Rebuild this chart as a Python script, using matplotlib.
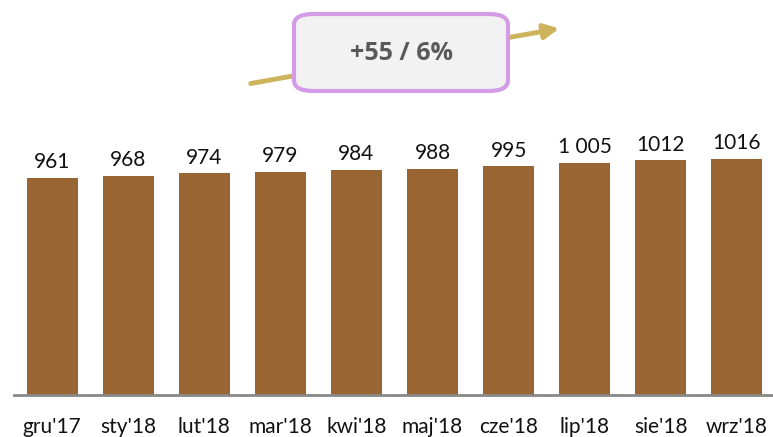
import matplotlib
matplotlib.use("Agg")
import matplotlib.pyplot as plt
from matplotlib.patches import FancyBboxPatch, FancyArrowPatch

miesiace = ["gru'17", "sty'18", "lut'18", "mar'18", "kwi'18",
            "maj'18", "cze'18", "lip'18", "sie'18", "wrz'18"]
wartosci = [961, 968, 974, 979, 984, 988, 995, 1005, 1012, 1016]
etykiety = ["961", "968", "974", "979", "984", "988", "995", "1 005", "1012", "1016"]

kolor_slupka = "#996633"

plt.rcParams["font.family"] = ["Lato", "DejaVu Sans"]
fig = plt.figure(figsize=(7.73, 4.37), dpi=100)
ax = fig.add_axes([14 / 773, 42 / 437, 761 / 773, 295 / 437])

x = range(len(wartosci))
ax.bar(x, wartosci, width=0.67, color=kolor_slupka)
for i, (v, t) in enumerate(zip(wartosci, etykiety)):
    ax.annotate(t, (i, v), xytext=(0, 4), textcoords="offset points",
                ha="center", va="bottom", fontsize=15, color="#111111")

ax.set_xlim(-0.5, 9.5)
ax.set_ylim(332, 1187)
ax.set_xticks(list(x))
ax.set_xticklabels(miesiace, fontsize=15, color="#111111")
ax.tick_params(axis="x", length=0, pad=16)
ax.set_yticks([])
for s in ["top", "right", "left"]:
    ax.spines[s].set_visible(False)
ax.spines["bottom"].set_color("#888888")
ax.spines["bottom"].set_linewidth(2)

# strzalka wzrostu i ramka z przyrostem
strzalka = FancyArrowPatch((248 / 773, 1 - 84 / 437), (562 / 773, 1 - 28 / 437),
                           transform=fig.transFigure, arrowstyle="-|>",
                           mutation_scale=22, color="#cdb35c", lw=3.5)
fig.patches.append(strzalka)

ramka = FancyBboxPatch((294 / 773, 1 - 91 / 437), 214 / 773, 77 / 437,
                       boxstyle="round,pad=0,rounding_size=0.025",
                       transform=fig.transFigure, facecolor="#f2f2f2",
                       edgecolor="#d49be6", lw=3)
fig.patches.append(ramka)

przyrost = wartosci[-1] - wartosci[0]
procent = round(100 * przyrost / wartosci[0])
fig.text(401 / 773, 1 - 53 / 437, f"+{przyrost} / {procent}%",
         ha="center", va="center", fontsize=18, fontweight="bold",
         family=["Open Sans", "DejaVu Sans"], color="#595959")

fig.savefig("out.png", dpi=100)
